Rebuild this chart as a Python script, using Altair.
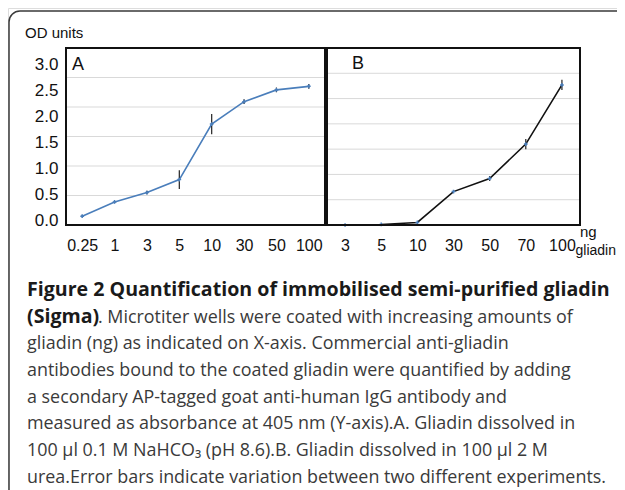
import altair as alt
import pandas as pd

# ---- data ----
a_dose = ["0.25", "1", "3", "5", "10", "30", "50", "100"]
a_od = [0.15, 0.39, 0.55, 0.77, 1.71, 2.09, 2.29, 2.35]
a_err = [0.02, 0.02, 0.03, 0.16, 0.17, 0.04, 0.04, 0.04]

b_dose = ["3", "5", "10", "30", "50", "70", "100"]
b_od = [0.0, 0.01, 0.05, 0.66, 0.92, 1.60, 2.77]
b_err = [0.0, 0.0, 0.0, 0.01, 0.05, 0.10, 0.10]

a_grid = [0.5, 1.0, 1.5, 2.0, 2.5]
b_grid = [0.5, 1.0, 1.5, 2.0, 2.5, 3.0]
y_ticks = [0.0, 0.5, 1.0, 1.5, 2.0, 2.5, 3.0]

cap_bold1 = "Figure 2 Quantification of immobilised semi-purified gliadin"
cap_bold2 = "(Sigma)"
cap_rest2 = ". Microtiter wells were coated with increasing amounts of"
cap_lines = [
    "gliadin (ng) as indicated on X-axis. Commercial anti-gliadin",
    "antibodies bound to the coated gliadin were quantified by adding",
    "a secondary AP-tagged goat anti-human IgG antibody and",
    "measured as absorbance at 405 nm (Y-axis).A. Gliadin dissolved in",
    "100 \u00b5l 0.1 M NaHCO\u2083 (pH 8.6).B. Gliadin dissolved in 100 \u00b5l 2 M",
    "urea.Error bars indicate variation between two different experiments.",
]

W, H = 609, 482
AX0, AX1 = 58, 317
BX0, BX1 = 319, 572
PY0, PY1 = 217, 40
LAB_FONT = "Liberation Sans"
CAP_FONT = "Open Sans"
CAP_N = 17.9
CAP_B = 19.6

dfa = pd.DataFrame({"dose": a_dose, "od": a_od, "err": a_err})
dfa["lo"] = dfa["od"] - dfa["err"]
dfa["hi"] = dfa["od"] + dfa["err"]
dfb = pd.DataFrame({"dose": b_dose, "od": b_od, "err": b_err})
dfb["lo"] = dfb["od"] - dfb["err"]
dfb["hi"] = dfb["od"] + dfb["err"]


def x_enc(dom, r0, r1):
    return alt.X(
        "dose:N", sort=dom,
        scale=alt.Scale(type="point", domain=dom, range=[r0, r1], padding=0.5),
        axis=alt.Axis(orient="bottom", offset=-(H - PY0), domain=False, ticks=False,
                      grid=False, labelAngle=0, labelPadding=12, labelFontSize=16,
                      labelFont=LAB_FONT, labelColor="#111111", title=None),
    )


def panel(df, dom, r0, r1, ymax, grid_vals, line_color):
    ysc = alt.Scale(domain=[0, ymax], range=[PY0, PY1], nice=False, zero=False)
    xe = x_enc(dom, r0, r1)
    grid = alt.Chart(pd.DataFrame({"g": grid_vals})).mark_rule(
        color="#d9d9d9", strokeWidth=1
    ).encode(y=alt.Y("g:Q", scale=ysc, axis=None), x=alt.value(r0), x2=alt.value(r1))
    line = alt.Chart(df).mark_line(color=line_color, strokeWidth=1.6).encode(
        x=xe, y=alt.Y("od:Q", scale=ysc, axis=None)
    )
    err = alt.Chart(df).mark_rule(color="#222222", strokeWidth=1.2).encode(
        x=xe, y=alt.Y("lo:Q", scale=ysc, axis=None), y2="hi:Q"
    )
    pts = alt.Chart(df).mark_point(shape="cross", filled=True, size=14, color="#4a7ebb", opacity=1).encode(
        x=xe, y=alt.Y("od:Q", scale=ysc, axis=None)
    )
    return alt.layer(grid, line, err, pts)


panel_a = panel(dfa, a_dose, AX0, AX1, 3.0, a_grid, "#4a7ebb")
panel_b = panel(dfb, b_dose, BX0, BX1, 3.5, b_grid, "#111111")

ylab = alt.Chart(pd.DataFrame({"v": y_ticks})).mark_point(opacity=0).encode(
    x=alt.value(0),
    y=alt.Y("v:Q", scale=alt.Scale(domain=[0, 3], range=[212, 56], nice=False),
            axis=alt.Axis(orient="left", offset=-AX0, values=y_ticks, format=".1f",
                          domain=False, ticks=False, grid=False, labelPadding=8,
                          labelFontSize=17, labelFont=LAB_FONT, labelColor="#111111",
                          title=None)),
)

one = alt.Data(values=[{"k": 1}])


def box(x0, y0, x1, y1, **kw):
    return alt.Chart(one).mark_rect(fill=None, **kw).encode(
        x=alt.value(x0), y=alt.value(y0), x2=alt.value(x1), y2=alt.value(y1)
    )


def txt(s, x, y, **kw):
    return alt.Chart(one).mark_text(text=s, **kw).encode(x=alt.value(x), y=alt.value(y))


outer = box(1, 3, 660, 540, stroke="#3a3a3a", strokeWidth=1.5, cornerRadius=11)
frame_a = box(AX0, PY1, AX1, PY0, stroke="#111111", strokeWidth=2)
frame_b = box(BX0, PY1, BX1, PY0, stroke="#111111", strokeWidth=2)

texts = [
    txt("OD units", 17, 25, align="left", baseline="middle", fontSize=15, font=LAB_FONT, color="#111111"),
    txt("A", 64, 57, align="left", baseline="middle", fontSize=18, font=LAB_FONT, color="#111111"),
    txt("B", 344, 56, align="left", baseline="middle", fontSize=18, font=LAB_FONT, color="#111111"),
    txt("ng", 572, 224, align="left", baseline="middle", fontSize=15, font=LAB_FONT, color="#111111"),
    txt("gliadin", 608, 243, align="right", baseline="middle", fontSize=14, font=LAB_FONT, color="#111111"),
    txt(cap_bold1, 19, 288, align="left", baseline="alphabetic", fontSize=CAP_B, font=CAP_FONT,
        fontWeight="bold", color="#1a1a1a"),
    txt(cap_bold2, 19, 314.7, align="left", baseline="alphabetic", fontSize=CAP_B, font=CAP_FONT,
        fontWeight="bold", color="#1a1a1a"),
    txt(cap_rest2, 90, 314.7, align="left", baseline="alphabetic", fontSize=CAP_N, font=CAP_FONT,
        color="#3a3a3a"),
    txt(cap_lines, 19, 341.4, align="left", baseline="alphabetic", fontSize=CAP_N, font=CAP_FONT,
        lineHeight=26.7, color="#3a3a3a"),
]

chart = alt.layer(
    outer, panel_a, panel_b, ylab, frame_a, frame_b, *texts
).resolve_scale(x="independent", y="independent").properties(
    width=W, height=H, autosize=alt.AutoSizeParams(type="none"), padding=0
).configure_view(strokeWidth=0).configure(background="white")

chart.save("out.html", embed_options={"renderer": "svg", "actions": False})
